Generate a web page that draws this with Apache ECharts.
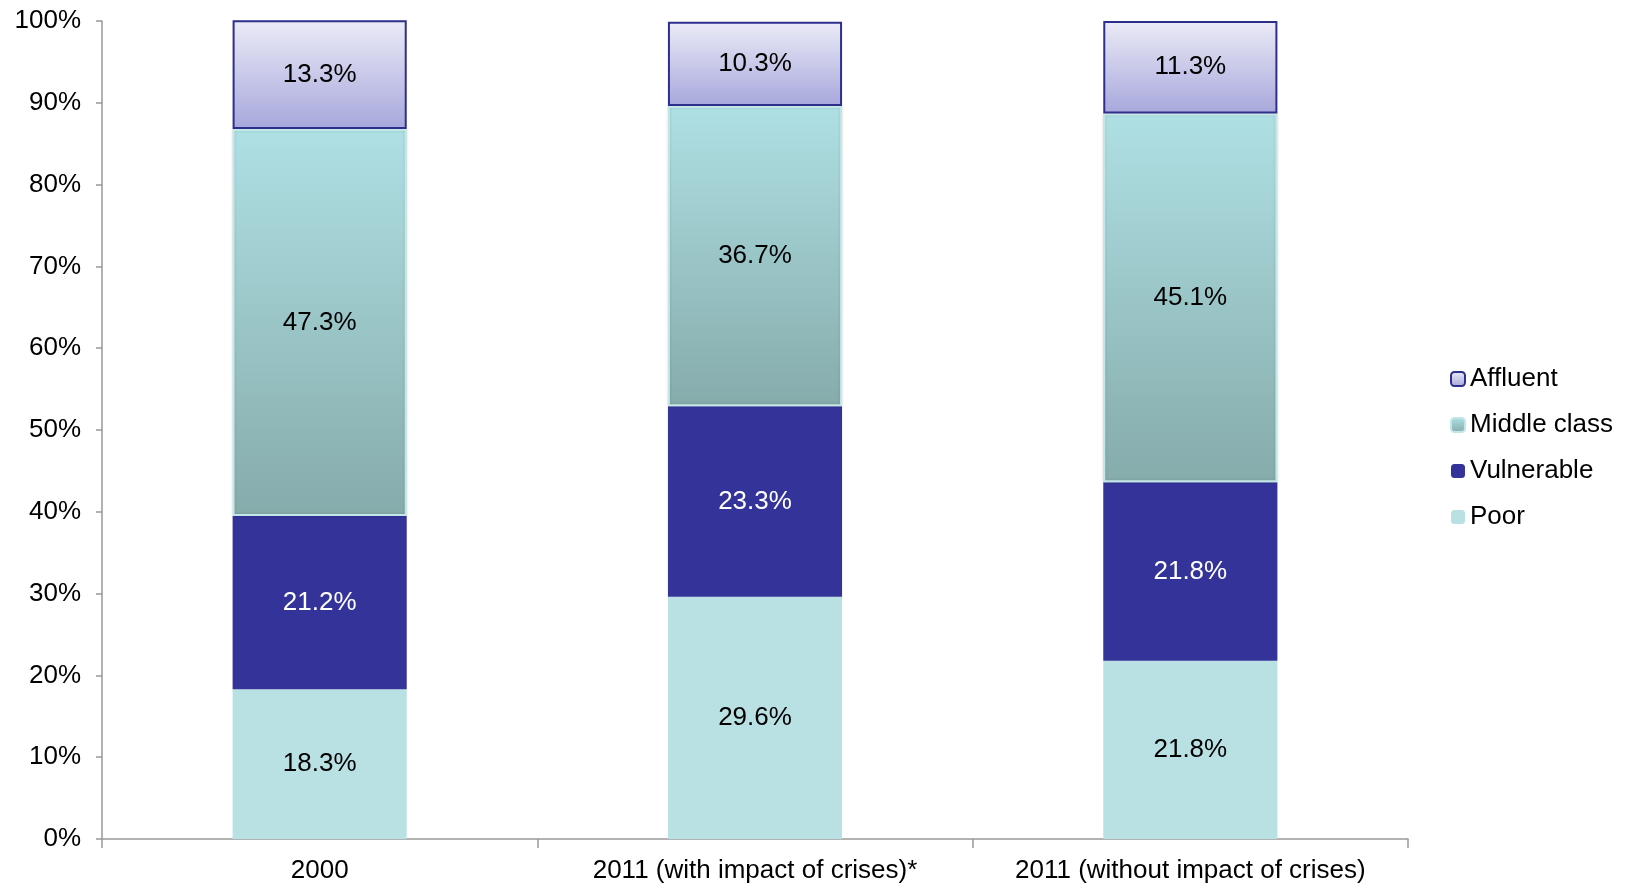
<!DOCTYPE html>
<html>
<head>
<meta charset="utf-8">
<script src="https://cdn.jsdelivr.net/npm/echarts@6/dist/echarts.min.js"></script>
<style>
html,body{margin:0;padding:0;background:#fff;}
#chart{width:1627px;height:885px;}
</style>
</head>
<body>
<div id="chart"></div>
<script>
const categories = ['2000', '2011 (with impact of crises)*', '2011 (without impact of crises)'];
const poor = [18.3, 29.6, 21.8];
const vulnerable = [21.2, 23.3, 21.8];
const middleClass = [47.3, 36.7, 45.1];
const affluent = [13.3, 10.3, 11.3];
const yTicks = [0, 10, 20, 30, 40, 50, 60, 70, 80, 90, 100];

const FONT = '"Liberation Sans", Arial, sans-serif';
const FS = 26;
const chart = echarts.init(document.getElementById('chart'));

function grad(top, bottom) {
  return new echarts.graphic.LinearGradient(0, 0, 0, 1, [
    {offset: 0, color: top}, {offset: 1, color: bottom}
  ]);
}
const labelFmt = p => p.value.toFixed(1) + '%';
function lbl(color) {
  return {show: true, position: 'inside', color: color, fontSize: FS, fontFamily: FONT, formatter: labelFmt};
}

chart.setOption({
  animation: false,
  backgroundColor: '#fff',
  grid: {left: 102, right: 219, top: 21, bottom: 46},
  legend: {
    orient: 'vertical',
    left: 1445,
    top: 361,
    itemWidth: 14,
    itemHeight: 14,
    itemGap: 20,
    textStyle: {fontSize: FS, fontFamily: FONT, color: '#000'},
    data: ['Affluent', 'Middle class', 'Vulnerable', 'Poor']
  },
  xAxis: {
    type: 'category',
    data: categories,
    axisLine: {lineStyle: {color: '#999', width: 1.5}},
    axisTick: {show: true, length: 9, lineStyle: {color: '#999', width: 1.5}},
    axisLabel: {fontSize: FS, fontFamily: FONT, color: '#000', margin: 19, interval: 0, hideOverlap: false}
  },
  yAxis: {
    type: 'value',
    min: yTicks[0], max: yTicks[yTicks.length - 1], interval: 10,
    axisLine: {show: true, lineStyle: {color: '#999', width: 1.5}},
    axisTick: {show: true, length: 6, lineStyle: {color: '#999', width: 1.5}},
    splitLine: {show: false},
    axisLabel: {fontSize: FS, fontFamily: FONT, color: '#000', margin: 21, formatter: v => v + '%'}
  },
  series: [
    {
      name: 'Poor', type: 'bar', stack: 'a', barWidth: '40%', data: poor,
      itemStyle: {color: '#b9e0e3'},
      label: lbl('#000')
    },
    {
      name: 'Vulnerable', type: 'bar', stack: 'a', data: vulnerable,
      itemStyle: {color: '#333399'},
      label: lbl('#fff')
    },
    {
      name: 'Middle class', type: 'bar', stack: 'a', data: middleClass,
      itemStyle: {color: grad('#afe0e4', '#86abab'), borderColor: '#c3e6e8', borderWidth: 2,
                  shadowColor: 'rgba(0,0,0,0.15)', shadowBlur: 3},
      label: lbl('#000')
    },
    {
      name: 'Affluent', type: 'bar', stack: 'a', data: affluent,
      itemStyle: {color: grad('#ebebf7', '#a7a7dc'), borderColor: '#2e2e8c', borderWidth: 2},
      label: lbl('#000')
    }
  ]
});
</script>
</body>
</html>
